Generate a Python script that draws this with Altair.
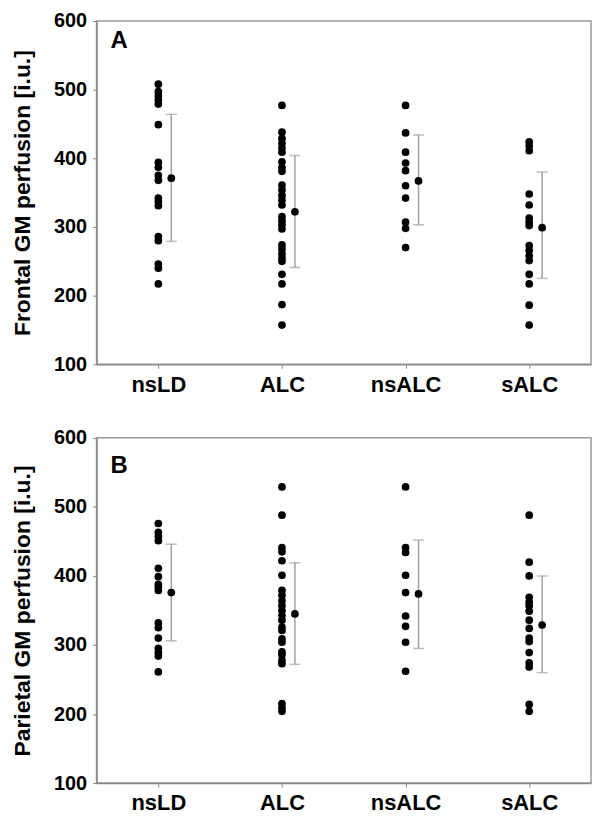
import altair as alt
import pandas as pd

groups = ["nsLD", "ALC", "nsALC", "sALC"]

frontal_nsLD = [508, 497, 491, 485, 479, 449, 394, 387, 375, 368, 342, 337, 331, 286, 280, 246, 240, 217]
frontal_ALC = [477, 438, 429, 422, 415, 409, 395, 387, 381, 361, 354, 346, 339, 332, 315, 309, 303, 297,
               274, 268, 261, 255, 250, 231, 217, 187, 157]
frontal_nsALC = [477, 437, 409, 393, 382, 360, 342, 307, 298, 270]
frontal_sALC = [424, 418, 411, 348, 332, 313, 307, 302, 273, 266, 258, 251, 231, 217, 186, 157]
frontal_mean = [371, 322, 367, 299]
frontal_low = [279, 241, 303, 225]
frontal_high = [464, 404, 434, 380]

parietal_nsLD = [476, 463, 457, 451, 411, 399, 388, 384, 379, 332, 325, 310, 295, 289, 284, 261]
parietal_ALC = [529, 488, 441, 435, 422, 401, 379, 372, 364, 357, 350, 343, 336, 326, 321, 309, 304,
                290, 286, 278, 273, 215, 209, 204]
parietal_nsALC = [529, 441, 434, 401, 376, 342, 327, 304, 262]
parietal_sALC = [488, 420, 400, 369, 362, 357, 349, 336, 324, 310, 305, 289, 274, 268, 214, 204]
parietal_mean = [376, 345, 374, 329]
parietal_low = [306, 272, 295, 260]
parietal_high = [446, 419, 452, 400]

FONT = "Liberation Sans"
GREY = "#a0a0a0"
OFF = 13


def panel(points, mean, lo, hi, title, letter, letter_y, height):
    pts = pd.DataFrame([(g, v) for g, vals in zip(groups, points) for v in vals],
                       columns=["group", "value"])
    stats = pd.DataFrame({"group": groups, "value": mean, "lo": lo, "hi": hi})

    xenc = alt.X("group:N", sort=groups,
                 scale=alt.Scale(type="point", padding=0.5),
                 axis=alt.Axis(title=None, labelFontSize=22, labelPadding=6, tickSize=4,
                               labelAngle=0))
    yscale = alt.Scale(domain=[100, 600], nice=False, zero=False)
    yaxis = alt.Axis(title=title, values=[100, 200, 300, 400, 500, 600], labelFontSize=20,
                     labelPadding=6, tickSize=4, titleFontSize=23, titlePadding=19)

    def yenc(field):
        return alt.Y(field, scale=yscale, axis=yaxis, title=title)

    dots = alt.Chart(pts).mark_circle(size=60, color="black", opacity=1).encode(
        x=xenc, y=yenc("value:Q"))
    rule = alt.Chart(stats).mark_rule(color=GREY, strokeWidth=1.5, xOffset=OFF).encode(
        x=xenc, y=yenc("lo:Q"), y2="hi:Q")
    cap_lo = alt.Chart(stats).mark_tick(color=GREY, size=11, thickness=1.5, xOffset=OFF).encode(
        x=xenc, y=yenc("lo:Q"))
    cap_hi = alt.Chart(stats).mark_tick(color=GREY, size=11, thickness=1.5, xOffset=OFF).encode(
        x=xenc, y=yenc("hi:Q"))
    mdot = alt.Chart(stats).mark_circle(size=60, color="black", opacity=1, xOffset=OFF).encode(
        x=xenc, y=yenc("value:Q"))
    lab = alt.Chart(pd.DataFrame({"t": [letter]})).mark_text(
        font=FONT, fontSize=24, fontWeight="bold", color="black", align="left",
        baseline="top").encode(text="t:N", x=alt.value(14), y=alt.value(letter_y))
    return alt.layer(rule, cap_lo, cap_hi, dots, mdot, lab).properties(width=497, height=height)


top = panel([frontal_nsLD, frontal_ALC, frontal_nsALC, frontal_sALC],
            frontal_mean, frontal_low, frontal_high,
            "Frontal GM perfusion [i.u.]", "A", 8, 345)
bottom = panel([parietal_nsLD, parietal_ALC, parietal_nsALC, parietal_sALC],
               parietal_mean, parietal_low, parietal_high,
               "Parietal GM perfusion [i.u.]", "B", 16, 347)

chart = alt.vconcat(top, bottom, spacing=31).properties(
    padding={"left": 2, "top": 0, "right": 0, "bottom": 0}
).configure_axis(
    labelFont=FONT, titleFont=FONT, labelFontWeight="bold", titleFontWeight="bold",
    labelColor="black", titleColor="black", domainColor="#888888", tickColor="#888888",
    domainWidth=1.5, grid=False
).configure_view(stroke="#999999", strokeWidth=1.5)

chart.save("out.html", embed_options={"renderer": "svg", "actions": False})
